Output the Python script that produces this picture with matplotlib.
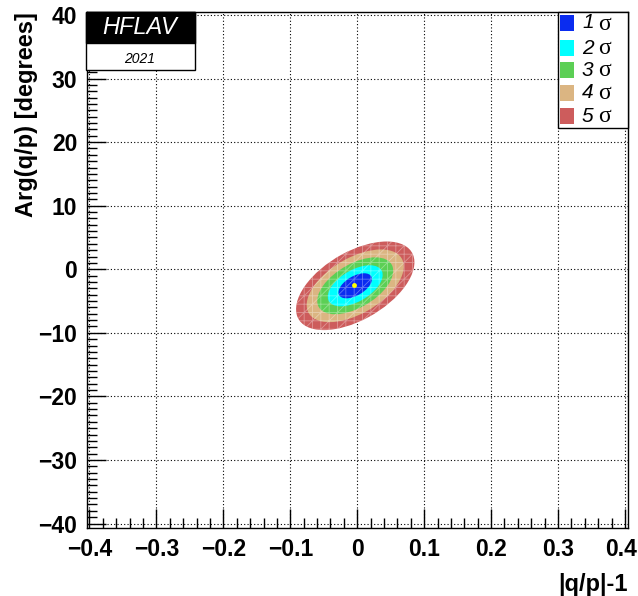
"""HFLAV-style contour plot of |q/p|-1 vs Arg(q/p)."""

import matplotlib

matplotlib.use("Agg")
import matplotlib.pyplot as plt
import numpy as np
from matplotlib.patches import Ellipse, Rectangle
from matplotlib.ticker import MultipleLocator
from matplotlib.transforms import ScaledTranslation


# fit result
best_x = -0.0055
best_y = -2.4
center_x = -0.003
center_y = -2.6
sigma_x = 0.0165
sigma_y = 1.30
rho = 0.53

levels = ["1", "2", "3", "4", "5"]
delta_chi2 = [2.30, 6.18, 11.83, 19.33, 28.74]
colors = ["#0a2cf0", "#00ffff", "#5ccf55", "#dbb582", "#cd5c5c"]

x_ticks = [-0.4, -0.3, -0.2, -0.1, 0.0, 0.1, 0.2, 0.3, 0.4]
y_ticks = [-40, -30, -20, -10, 0, 10, 20, 30, 40]

W, H = 638, 596


def fx(px):
    return px / W


def fy(py):
    return 1 - py / H


def main() -> None:
    plt.rcParams["font.family"] = ["Liberation Sans", "DejaVu Sans"]
    plt.rcParams["hatch.linewidth"] = 0.6

    fig = plt.figure(figsize=(W / 100, H / 100), dpi=100)
    ax = fig.add_axes([fx(87), fy(528), fx(628) - fx(87), fy(12) - fy(528)])

    cov = np.array([[sigma_x**2, rho * sigma_x * sigma_y],
                    [rho * sigma_x * sigma_y, sigma_y**2]])
    vals, vecs = np.linalg.eigh(cov)
    angle = np.degrees(np.arctan2(vecs[1, 1], vecs[0, 1]))

    # draw largest contour first
    for level, dchi, color in reversed(list(zip(levels, delta_chi2, colors))):
        k = np.sqrt(dchi)
        ax.add_patch(Ellipse((center_x, center_y), 2 * k * np.sqrt(vals[1]),
                             2 * k * np.sqrt(vals[0]), angle=angle,
                             facecolor=color, edgecolor="none", zorder=2))
    k = np.sqrt(delta_chi2[-1])
    ax.add_patch(Ellipse((center_x, center_y), 2 * k * np.sqrt(vals[1]),
                         2 * k * np.sqrt(vals[0]), angle=angle,
                         facecolor="none", edgecolor=(1, 1, 1, 0.35),
                         linewidth=0, hatch="++//", zorder=3))
    ax.plot(best_x, best_y, "o", color="#ffff00", markersize=3.5,
            markeredgewidth=0, zorder=4)

    ax.set_xlim(-0.4037, 0.4045)
    ax.set_ylim(-40.7, 40.47)
    ax.set_xticks(x_ticks)
    ax.set_yticks(y_ticks)
    ax.xaxis.set_minor_locator(MultipleLocator(0.02))
    ax.yaxis.set_minor_locator(MultipleLocator(1))
    ax.set_xticklabels([f"{t:.1f}".replace("-", "\u2212") if t != 0 else "0" for t in x_ticks])
    ax.set_yticklabels([str(t).replace("-", "\u2212") for t in y_ticks])
    ax.grid(True, which="major", color="black", linestyle=(0, (1, 2)), linewidth=0.8)
    ax.tick_params(which="both", direction="in", top=False, right=False,
                   labelsize=16.5, width=1, color="black")
    ax.tick_params(which="major", length=14, pad=7)
    ax.tick_params(which="minor", length=7)
    for lab in ax.get_xticklabels() + ax.get_yticklabels():
        lab.set_fontweight("bold")
    # last x label is pulled in so it fits the canvas
    last = ax.get_xticklabels()[-1]
    last.set_transform(last.get_transform() + ScaledTranslation(-0.04, 0, fig.dpi_scale_trans))
    for spine in ax.spines.values():
        spine.set_linewidth(1)
    ax.set_axisbelow(True)

    fig.text(fx(27), fy(12), "Arg(q/p) [degrees]", rotation=90, ha="center",
             va="top", fontsize=17, fontweight="bold")
    fig.text(fx(628), fy(591), "|q/p|-1", ha="right", va="baseline",
             fontsize=17, fontweight="bold")

    # HFLAV logo box
    fig.patches.append(Rectangle((fx(86), fy(70)), fx(195) - fx(86), fy(12) - fy(70),
                                 transform=fig.transFigure, facecolor="white",
                                 edgecolor="black", linewidth=1, zorder=5))
    fig.patches.append(Rectangle((fx(86), fy(43)), fx(195) - fx(86), fy(12) - fy(43),
                                 transform=fig.transFigure, facecolor="black",
                                 edgecolor="black", linewidth=1, zorder=5))
    fig.text(fx(140), fy(28), "HFLAV", color="white", style="italic",
             fontsize=17, ha="center", va="center", zorder=6)
    fig.text(fx(140), fy(59), "2021", color="black", style="italic",
             fontsize=10, ha="center", va="center", zorder=6)

    # legend
    fig.patches.append(Rectangle((fx(558), fy(128)), fx(628) - fx(558), fy(12) - fy(128),
                                 transform=fig.transFigure, facecolor="white",
                                 edgecolor="black", linewidth=1, zorder=5))
    row_y = [23, 48, 70, 93, 116]
    for level, color, ry in zip(levels, colors, row_y):
        fig.patches.append(Rectangle((fx(560), fy(ry + 8)), fx(574) - fx(560), fy(ry - 8) - fy(ry + 8),
                                     transform=fig.transFigure, facecolor=color,
                                     edgecolor="none", zorder=6))
        fig.text(fx(582), fy(ry), level, style="italic", fontsize=15,
                 ha="left", va="center", zorder=7)
        fig.text(fx(598), fy(ry + 1), "\u03c3", family=["Liberation Serif", "DejaVu Serif"],
                 fontsize=17, ha="left", va="center", zorder=7)

    fig.savefig("out.png", dpi=100)
    plt.close(fig)


if __name__ == "__main__":
    main()
